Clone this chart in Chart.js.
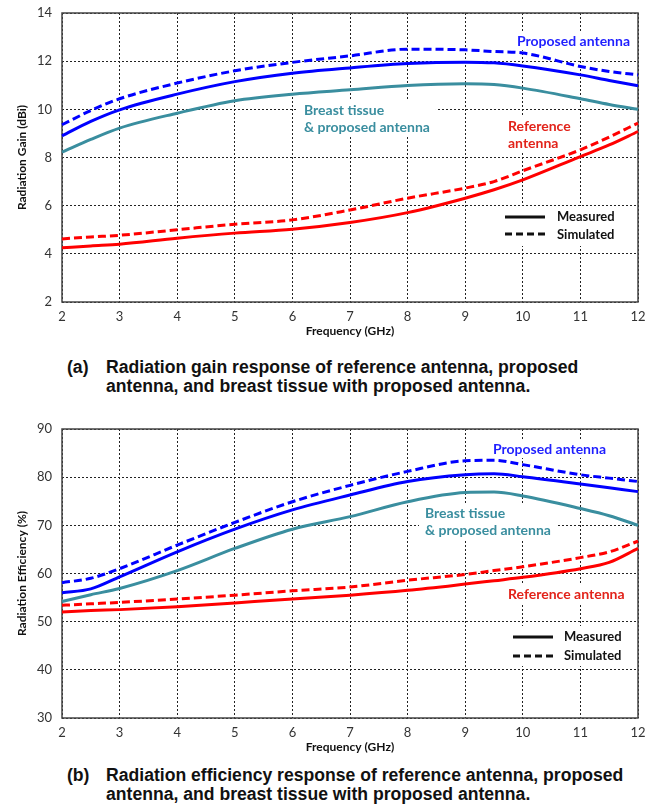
<!DOCTYPE html>
<html>
<head>
<meta charset="utf-8">
<script src="https://cdn.jsdelivr.net/npm/chart.js@4.4.1/dist/chart.umd.min.js"></script>
<style>
  body { margin: 0; background: #fff; }
  #page { position: relative; width: 656px; height: 804px; overflow: hidden; }
  canvas { position: absolute; left: 0; }
  .lbl { position: absolute; font: bold 14px Lato, sans-serif; line-height: 17px; padding: 1px 6px; white-space: nowrap; }
  .leg { position: absolute; font: bold 13px Lato, sans-serif; color: #111; line-height: 17px; white-space: nowrap; }
  .legbox { position: absolute; }
  .cap { position: absolute; left: 67px; font: bold 17.6px "Liberation Sans", Arial, sans-serif; line-height: 19px; color: #111; white-space: nowrap; }
  .cap span { position: absolute; left: 0; }
  .cap div { margin-left: 39px; }
</style>
</head>
<body>
<div id="page">
  <canvas id="gainChart" width="656" height="345" style="top:0"></canvas>
  <canvas id="effChart" width="656" height="345" style="top:416px"></canvas>

  <!-- labels, chart (a); their boxes are blanked out of the grid by the plugin -->
  <div class="lbl" data-chart="gainChart" style="left:511px;top:31px;color:#1f1fff">Proposed antenna</div>
  <div class="lbl" data-chart="gainChart" style="left:298px;top:100px;color:#3a8e9f">Breast tissue<br>&amp; proposed antenna</div>
  <div class="lbl" data-chart="gainChart" style="left:502px;top:116px;color:#e2231a">Reference<br>antenna</div>
  <div class="legbox" data-chart="gainChart" style="left:497px;top:206px;width:130px;height:40px"></div>
  <svg style="position:absolute;left:505px;top:212px" width="40" height="30">
    <line x1="0" y1="5" x2="40" y2="5" stroke="#111" stroke-width="3"/>
    <line x1="0" y1="22" x2="40" y2="22" stroke="#111" stroke-width="3" stroke-dasharray="7,4"/>
  </svg>
  <div class="leg" style="left:557px;top:208px">Measured</div>
  <div class="leg" style="left:557px;top:226px">Simulated</div>

  <div class="cap" style="top:358px"><span>(a)</span><div>Radiation gain response of reference antenna, proposed<br>antenna, and breast tissue with proposed antenna.</div></div>

  <!-- labels, chart (b) -->
  <div class="lbl" data-chart="effChart" style="left:487px;top:439px;color:#1f1fff">Proposed antenna</div>
  <div class="lbl" data-chart="effChart" style="left:419px;top:503px;color:#3a8e9f">Breast tissue<br>&amp; proposed antenna</div>
  <div class="lbl" data-chart="effChart" style="left:502px;top:584px;color:#e2231a">Reference antenna</div>
  <div class="legbox" data-chart="effChart" style="left:505px;top:626px;width:130px;height:40px"></div>
  <svg style="position:absolute;left:513px;top:632px" width="40" height="30">
    <line x1="0" y1="5" x2="40" y2="5" stroke="#111" stroke-width="3"/>
    <line x1="0" y1="24" x2="40" y2="24" stroke="#111" stroke-width="3" stroke-dasharray="7,4"/>
  </svg>
  <div class="leg" style="left:564px;top:628px">Measured</div>
  <div class="leg" style="left:564px;top:647px">Simulated</div>

  <div class="cap" style="top:766px"><span>(b)</span><div>Radiation efficiency response of reference antenna, proposed<br>antenna, and breast tissue with proposed antenna.</div></div>
</div>

<script>
// frequency points (GHz)
const freqs = [2, 2.5, 3, 4, 5, 6, 7, 8, 9, 9.5, 10, 11, 11.5, 12];

// (a) radiation gain, dBi
const gainPropMeas = [8.9, 9.5, 9.98, 10.63, 11.15, 11.5, 11.72, 11.9, 11.96, 11.93, 11.8, 11.43, 11.2, 10.98];
const gainPropSim  = [9.36, 9.95, 10.44, 11.09, 11.6, 11.95, 12.22, 12.5, 12.47, 12.4, 12.34, 11.78, 11.57, 11.43];
const gainBreast   = [8.22, 8.75, 9.22, 9.84, 10.36, 10.63, 10.81, 10.99, 11.06, 11.03, 10.88, 10.44, 10.2, 10.0];
const gainRefMeas  = [4.25, 4.33, 4.4, 4.65, 4.86, 5.02, 5.3, 5.71, 6.31, 6.66, 7.07, 8.04, 8.52, 9.08];
const gainRefSim   = [4.62, 4.7, 4.77, 5.0, 5.23, 5.41, 5.82, 6.31, 6.73, 7.0, 7.45, 8.32, 8.85, 9.43];

// (b) radiation efficiency, %
const effPropMeas = [56.0, 56.8, 59.3, 64.5, 69.2, 73.2, 76.3, 79.1, 80.5, 80.7, 80.1, 78.6, 77.8, 77.0];
const effPropSim  = [58.1, 59.0, 61.0, 65.9, 70.6, 74.9, 78.3, 81.2, 83.4, 83.5, 82.6, 80.5, 79.8, 79.1];
const effBreast   = [54.2, 55.6, 56.9, 60.6, 65.2, 69.2, 71.8, 74.9, 76.8, 76.9, 76.1, 73.5, 72.0, 70.0];
const effRefMeas  = [52.0, 52.3, 52.5, 53.1, 53.9, 54.7, 55.5, 56.5, 57.8, 58.5, 59.2, 61.0, 62.3, 65.2];
const effRefSim   = [53.4, 53.7, 54.0, 54.7, 55.5, 56.4, 57.2, 58.6, 59.8, 60.6, 61.4, 63.3, 64.5, 66.7];

const BLUE = '#0000ff', TEAL = '#3a8e9f', RED = '#ff0000';

function pts(vals) {
    return vals.map((v, i) => ({ x: freqs[i], y: v }));
}

function series(vals, color, dashed) {
    return {
        data: pts(vals),
        borderColor: color,
        borderWidth: 3,
        borderDash: dashed ? [8, 4] : [],
        pointRadius: 0,
        cubicInterpolationMode: 'monotone',
        clip: 3
    };
}

// white patches under the text labels, then a solid frame round the plot area
const frame = {
    id: 'frame',
    beforeDatasetsDraw(chart) {
        const a = chart.chartArea, c = chart.ctx;
        const cr = chart.canvas.getBoundingClientRect();
        c.save();
        c.fillStyle = '#fff';
        document.querySelectorAll('[data-chart="' + chart.canvas.id + '"]').forEach(el => {
            const r = el.getBoundingClientRect();
            c.fillRect(r.left - cr.left, r.top - cr.top, r.width, r.height);
        });
        c.strokeStyle = '#444';
        c.lineWidth = 1.5;
        c.strokeRect(a.left, a.top, a.right - a.left, a.bottom - a.top);
        c.restore();
    }
};

function makeChart(id, datasets, ymin, ymax, ystep, ytitle) {
    return new Chart(document.getElementById(id), {
        type: 'line',
        data: { datasets: datasets },
        options: {
            responsive: false,
            animation: false,
            layout: { padding: { top: 13, right: 18, left: 0, bottom: 0 } },
            plugins: { legend: { display: false }, tooltip: { enabled: false } },
            scales: {
                x: {
                    type: 'linear', min: 2, max: 12,
                    afterFit: s => { s.height = 43; s.paddingLeft = 0; s.paddingRight = 0; },
                    grid: { color: '#222', drawTicks: false },
                    border: { display: false, dash: [2, 2] },
                    ticks: { stepSize: 1, padding: 7, color: '#333', font: { family: 'Lato', size: 13 } },
                    title: { display: true, text: 'Frequency (GHz)', color: '#111', padding: { bottom: 7 },
                             font: { family: 'Lato', size: 12, weight: 'bold' } }
                },
                y: {
                    min: ymin, max: ymax,
                    afterFit: s => { s.width = 62; s.paddingTop = 0; s.paddingBottom = 0; },
                    grid: { color: '#222', drawTicks: false },
                    border: { display: false, dash: [2, 2] },
                    ticks: { stepSize: ystep, padding: 10, color: '#333', font: { family: 'Lato', size: 13 } },
                    title: { display: true, text: ytitle, color: '#111', padding: { top: 15 },
                             font: { family: 'Lato', size: 12, weight: 'bold' } }
                }
            }
        },
        plugins: [frame]
    });
}

makeChart('gainChart', [
    series(gainPropMeas, BLUE, false),
    series(gainPropSim, BLUE, true),
    series(gainBreast, TEAL, false),
    series(gainRefMeas, RED, false),
    series(gainRefSim, RED, true)
], 2, 14, 2, 'Radiation Gain (dBi)');

makeChart('effChart', [
    series(effPropMeas, BLUE, false),
    series(effPropSim, BLUE, true),
    series(effBreast, TEAL, false),
    series(effRefMeas, RED, false),
    series(effRefSim, RED, true)
], 30, 90, 10, 'Radiation Efficiency (%)');
</script>
</body>
</html>
